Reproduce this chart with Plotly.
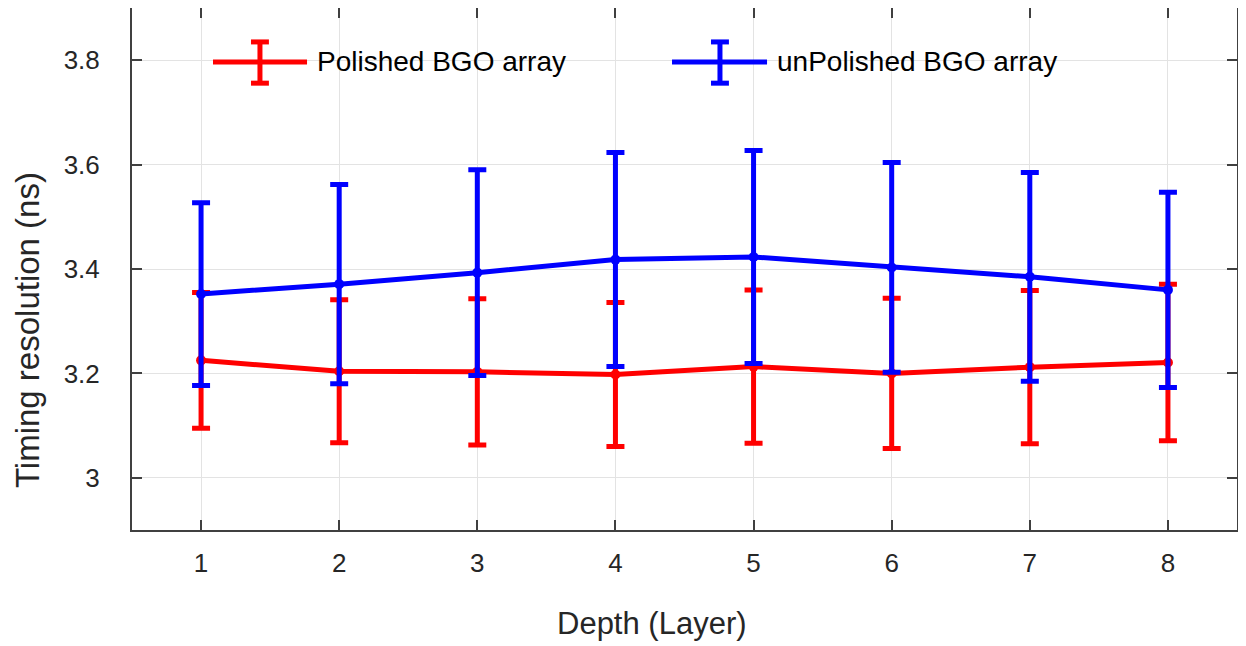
import plotly.graph_objects as go

depth = [1, 2, 3, 4, 5, 6, 7, 8]
polished = [3.225, 3.204, 3.203, 3.198, 3.213, 3.200, 3.212, 3.221]
polished_err = [0.130, 0.137, 0.140, 0.138, 0.147, 0.144, 0.147, 0.150]
unpolished = [3.352, 3.371, 3.393, 3.418, 3.423, 3.403, 3.385, 3.360]
unpolished_err = [0.175, 0.191, 0.197, 0.205, 0.204, 0.201, 0.200, 0.187]
y_ticks = [3.0, 3.2, 3.4, 3.6, 3.8]
y_tick_text = ["3", "3.2", "3.4", "3.6", "3.8"]
series_names = ["Polished BGO array", "unPolished BGO array"]
x_title = "Depth (Layer)"
y_title = "Timing resolution (ns)"

RED = "#ff0000"
BLUE = "#0000ff"
FONT = "Liberation Sans, Arial, sans-serif"
AX = "#404040"
TXT = "#262626"

fig = go.Figure()
fig.add_trace(go.Scatter(
    x=depth, y=polished, name=series_names[0], mode="lines+markers",
    line=dict(color=RED, width=5), marker=dict(color=RED, size=10),
    error_y=dict(type="data", array=polished_err, visible=True,
                 color=RED, thickness=5, width=9),
    showlegend=False,
))
fig.add_trace(go.Scatter(
    x=depth, y=unpolished, name=series_names[1], mode="lines+markers",
    line=dict(color=BLUE, width=5), marker=dict(color=BLUE, size=10),
    error_y=dict(type="data", array=unpolished_err, visible=True,
                 color=BLUE, thickness=5, width=9),
    showlegend=False,
))

# Manual legend (line + error-bar icon + text), in paper coordinates
legend_items = [
    (0.0733, 0.1584, 0.1158, 0.1656, RED, series_names[0]),
    (0.4887, 0.5747, 0.5321, 0.5819, BLUE, series_names[1]),
]
ly, ly_top, ly_bot = 0.8966, 0.935, 0.856
cap_half = 0.0081
shapes = []
annotations = []
for x0, x1, xc, xt, col, name in legend_items:
    shapes.append(dict(type="line", xref="paper", yref="paper", x0=x0, x1=x1,
                       y0=ly, y1=ly, line=dict(color=col, width=5)))
    shapes.append(dict(type="line", xref="paper", yref="paper", x0=xc, x1=xc,
                       y0=ly_bot, y1=ly_top, line=dict(color=col, width=5)))
    for yy in (ly_top, ly_bot):
        shapes.append(dict(type="line", xref="paper", yref="paper",
                           x0=xc - cap_half, x1=xc + cap_half, y0=yy, y1=yy,
                           line=dict(color=col, width=5)))
    annotations.append(dict(xref="paper", yref="paper", x=xt, y=ly,
                            xanchor="left", yanchor="middle", text=name,
                            showarrow=False,
                            font=dict(family=FONT, size=28, color="#000000")))

# Axis titles (placed as in the reference, slightly off-centre)
annotations.append(dict(xref="paper", yref="paper", x=0.471, y=-0.180,
                        xanchor="center", yanchor="middle", text=x_title,
                        showarrow=False,
                        font=dict(family=FONT, size=31, color=TXT)))
annotations.append(dict(xref="paper", yref="paper", x=-0.095, y=0.383,
                        xanchor="center", yanchor="middle", text=y_title,
                        textangle=-90, showarrow=False,
                        font=dict(family=FONT, size=33, color=TXT)))

# The page body adds an 8px offset; the figure size/margins compensate for it.
fig.update_layout(
    width=1238, height=638,
    margin=dict(l=124, r=9, t=0, b=116),
    paper_bgcolor="white", plot_bgcolor="white",
    font=dict(family=FONT, color=TXT),
    shapes=shapes, annotations=annotations,
    xaxis=dict(
        range=[0.5, 8.5], tickvals=depth, ticktext=[str(d) for d in depth],
        ticks="inside", ticklen=10, tickwidth=2, tickcolor=AX,
        showline=True, linecolor=AX, linewidth=2, mirror="ticks",
        showgrid=True, gridcolor="#e3e3e3", gridwidth=1, zeroline=False,
        tickfont=dict(family=FONT, size=26, color=TXT),
        ticklabelstandoff=9,
        automargin=False,
    ),
    yaxis=dict(
        range=[2.9, 3.9], tickvals=y_ticks, ticktext=y_tick_text,
        ticks="inside", ticklen=10, tickwidth=2, tickcolor=AX,
        showline=True, linecolor=AX, linewidth=2, mirror="ticks",
        showgrid=True, gridcolor="#e3e3e3", gridwidth=1, zeroline=False,
        tickfont=dict(family=FONT, size=26, color=TXT),
        ticklabelstandoff=25,
        automargin=False,
    ),
)

fig.write_html("out.html")
